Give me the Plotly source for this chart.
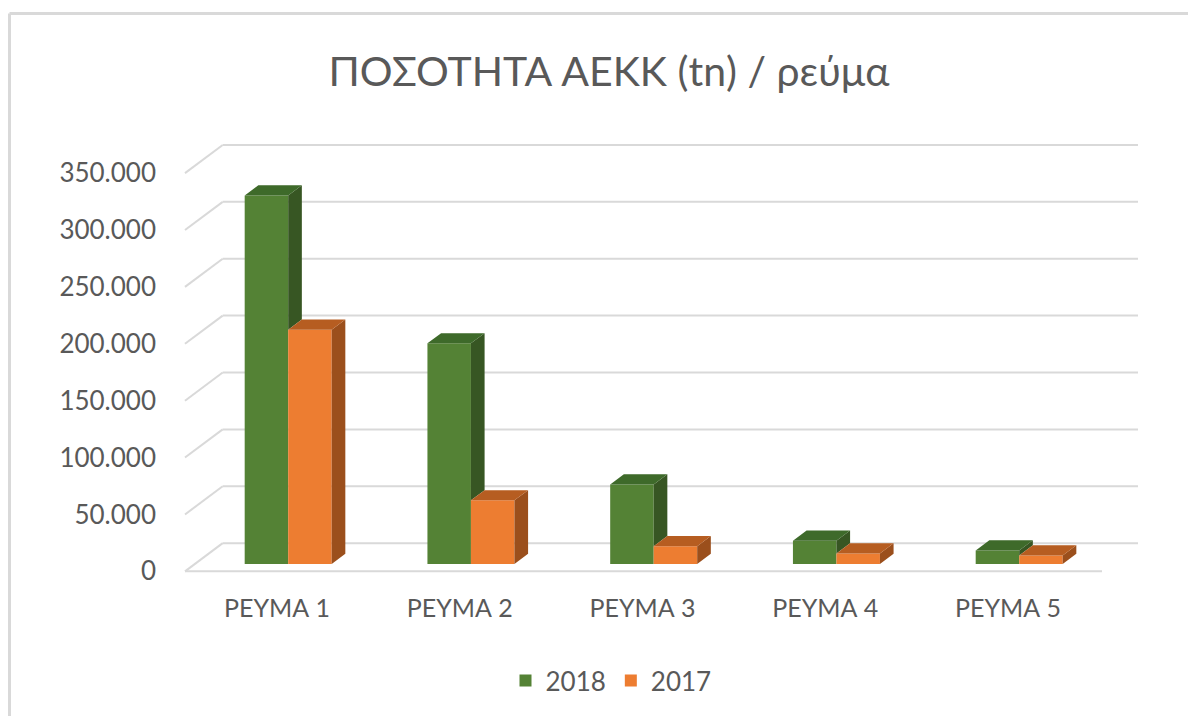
import plotly.graph_objects as go

# ---------------- data ----------------
categories = ["ΡΕΥΜΑ 1", "ΡΕΥΜΑ 2", "ΡΕΥΜΑ 3", "ΡΕΥΜΑ 4", "ΡΕΥΜΑ 5"]
series_names = ["2018", "2017"]
values_2018 = [324000, 194000, 70000, 20500, 12000]
values_2017 = [206000, 56000, 15700, 9300, 7500]
y_ticks = [0, 50000, 100000, 150000, 200000, 250000, 300000, 350000]
y_tick_labels = ["0", "50.000", "100.000", "150.000", "200.000", "250.000", "300.000", "350.000"]

# ---------------- styling / geometry ----------------
OFF = 8                      # page body margin of the html page
W, H = 1196 - 2 * OFF, 724 - 2 * OFF
PLOT_L, PLOT_R, PLOT_T, PLOT_B = 180 - OFF, 1142 - OFF, 138 - OFF, 582 - OFF
M_L, M_R, M_T, M_B = PLOT_L, W - PLOT_R, PLOT_T, H - PLOT_B
PX_PER_CAT = 182.75
CAT0_PX = 277.0 - OFF
FRONT0_PX = 573.3 - OFF
PX_PER_UNIT = 400.0 / 350000.0

DEPTH_X = 37.7 / PX_PER_CAT          # full floor depth, in category units
DEPTH_Y = 28.3 / PX_PER_UNIT         # full floor depth, in value units
BAR_W = 0.238
GROUP_SHIFT = 0.008
D_FRONT = 0.258
D_BACK = 0.62

FONT = "Lato"
TEXT_COL = "#595959"
GRID_COL = "#d9d9d9"
colors = {
    "2018": {"front": "#548235", "top": "#3e6a2a", "side": "#375623"},
    "2017": {"front": "#ED7D31", "top": "#b65d21", "side": "#9b4f1c"},
}

x_lo = (PLOT_L - CAT0_PX) / PX_PER_CAT
x_hi = (PLOT_R - CAT0_PX) / PX_PER_CAT
y_lo = -(PLOT_B - FRONT0_PX) / PX_PER_UNIT
y_hi = (FRONT0_PX - PLOT_T) / PX_PER_UNIT

floor_left = (185 - OFF - CAT0_PX) / PX_PER_CAT
floor_front_right = (1102 - OFF - CAT0_PX) / PX_PER_CAT
wall_right = (1138 - OFF - CAT0_PX) / PX_PER_CAT


def proj(x, v, d):
    return x + d * DEPTH_X, v + d * DEPTH_Y


fig = go.Figure()

# front faces as real bars
series_vals = {"2018": values_2018, "2017": values_2017}
lefts = {
    "2018": [i + GROUP_SHIFT - BAR_W for i in range(len(categories))],
    "2017": [i + GROUP_SHIFT for i in range(len(categories))],
}
for name in series_names:
    fx = [proj(x, 0, D_FRONT)[0] for x in lefts[name]]
    fig.add_trace(go.Bar(
        x=fx, y=series_vals[name], base=D_FRONT * DEPTH_Y, width=BAR_W, offset=0,
        name=name, marker=dict(color=colors[name]["front"], line=dict(width=0)),
        hovertemplate="%{customdata}: %{y:,.0f}<extra>" + name + "</extra>",
        customdata=categories,
    ))


def add_poly(xs, ys, color):
    fig.add_trace(go.Scatter(
        x=xs, y=ys, mode="lines", fill="toself", fillcolor=color,
        line=dict(width=0, color=color), hoverinfo="skip", showlegend=False,
    ))


def poly_pts(pts):
    xs, ys = [], []
    for x, v, d in pts:
        px, py = proj(x, v, d)
        xs.append(px)
        ys.append(py)
    xs.append(xs[0])
    ys.append(ys[0])
    return xs, ys


for name in series_names:
    top_x, top_y, side_x, side_y = [], [], [], []
    for i, v in enumerate(series_vals[name]):
        xl = lefts[name][i]
        xr = xl + BAR_W
        # top face
        xs, ys = poly_pts([(xl, v, D_FRONT), (xr, v, D_FRONT), (xr, v, D_BACK), (xl, v, D_BACK)])
        top_x += xs + [None]
        top_y += ys + [None]
        # right side face (part hidden behind the next series is skipped)
        low = values_2017[i] if name == "2018" else 0
        if v > low:
            xs, ys = poly_pts([(xr, low, D_FRONT), (xr, low, D_BACK), (xr, v, D_BACK), (xr, v, D_FRONT)])
            side_x += xs + [None]
            side_y += ys + [None]
    add_poly(side_x, side_y, colors[name]["side"])
    add_poly(top_x, top_y, colors[name]["top"])

# gridlines: back wall + left side wall + floor front edge (shapes, below the bars)
shapes = []
for v in y_ticks:
    bx, by = proj(floor_left, v, 1.0)
    shapes.append(dict(type="line", xref="x", yref="y", x0=floor_left, y0=v, x1=bx, y1=by,
                       line=dict(color=GRID_COL, width=2), layer="below"))
    shapes.append(dict(type="line", xref="x", yref="y", x0=bx, y0=by, x1=wall_right, y1=by,
                       line=dict(color=GRID_COL, width=2), layer="below"))
shapes.append(dict(type="line", xref="x", yref="y", x0=floor_left, y0=0, x1=floor_front_right, y1=0,
                   line=dict(color=GRID_COL, width=2), layer="below"))

# chart frame
pw = PLOT_R - PLOT_L
ph = PLOT_B - PLOT_T
fx0 = (1.5 - PLOT_L) / pw
fy0 = (PLOT_B - 5.0) / ph
fx1 = (W + 10 - PLOT_L) / pw
fy1 = (PLOT_B - (H + 10)) / ph
shapes.append(dict(type="line", xref="paper", yref="paper", x0=fx0, y0=fy0, x1=fx1, y1=fy0,
                   line=dict(color=GRID_COL, width=3)))
shapes.append(dict(type="line", xref="paper", yref="paper", x0=fx0, y0=fy0, x1=fx0, y1=fy1,
                   line=dict(color=GRID_COL, width=3)))

fig.update_layout(
    width=W, height=H,
    margin=dict(l=M_L, r=M_R, t=M_T, b=M_B),
    paper_bgcolor="white", plot_bgcolor="white",
    barmode="overlay",
    font=dict(family=FONT, color=TEXT_COL, size=26),
    title=dict(text="ΠΟΣΟΤΗΤΑ ΑΕΚΚ (tn) / ρεύμα", x=(609 - OFF) / W, xanchor="center",
               y=1 - (72 - OFF) / H, yanchor="middle",
               font=dict(family=FONT, size=41, color=TEXT_COL)),
    xaxis=dict(range=[x_lo, x_hi], tickvals=list(range(len(categories))), ticktext=categories,
               showgrid=False, zeroline=False, showline=False, ticks="", ticklabelstandoff=11,
               tickfont=dict(size=25, color=TEXT_COL)),
    yaxis=dict(range=[y_lo, y_hi], tickvals=y_ticks, ticktext=y_tick_labels,
               showgrid=False, zeroline=False, showline=False, ticks="", ticklabelstandoff=23,
               tickfont=dict(size=26, color=TEXT_COL)),
    legend=dict(orientation="h", x=(611 - OFF - PLOT_L) / pw, xanchor="center",
                y=(PLOT_B - (683 - OFF)) / ph, yanchor="middle",
                font=dict(size=26, color=TEXT_COL), bgcolor="rgba(0,0,0,0)"),
    shapes=shapes,
    showlegend=True,
)

fig.write_html("out.html")
